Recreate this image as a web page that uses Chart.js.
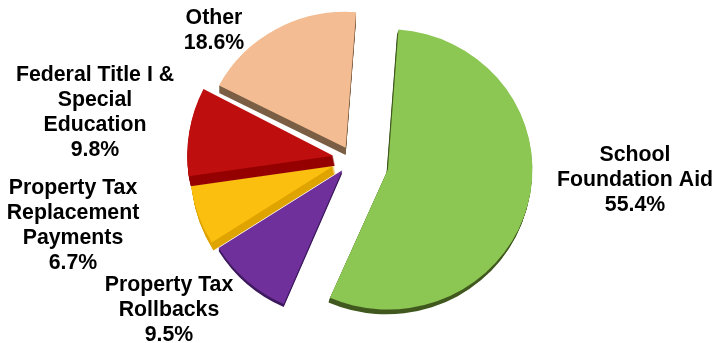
<!DOCTYPE html>
<html>
<head>
<meta charset="utf-8">
<style>
  html, body { margin: 0; background: #fff; }
  #funding-chart { display: block; }
</style>
<script src="https://cdn.jsdelivr.net/npm/chart.js@4/dist/chart.umd.min.js"></script>
</head>
<body>
<canvas id="funding-chart" width="713" height="343"></canvas>
<script>
const categories = [
  ['School', 'Foundation Aid'],
  ['Property Tax', 'Rollbacks'],
  ['Property Tax', 'Replacement', 'Payments'],
  ['Federal Title I &', 'Special', 'Education'],
  ['Other'],
];
const shares = [55.4, 9.5, 6.7, 9.8, 18.6];

const faceColors = ['#8cc653', '#70309b', '#fbbf10', '#bf0e0e', '#f3bc92'];
const sideColors = ['#41591f', '#3d1a5e', '#dfa400', '#950000', '#7b5f45'];

// per-slice look: pull-out distance, drop, wall height, wall lean, squash
const explode = [37, 15, 19, 19, 13];
const drop = [1.5, 0, 0, 0, 0];
const depth = [5, 3, 8, 10, 8];
const lean = [-0.3, 0, 0.2, 0.2, 0];
const squashX = [0.99, 1, 0.99, 1, 0.975];
const squashY = [0.96, 1, 0.99, 1, 0.93];

// label anchors, first line centre
const labelX = [635, 169, 73, 95, 214];
const labelY = [155, 285, 188, 75, 18];
const lineHeight = 24.9;

const explodedPie = {
  id: 'explodedPie',
  beforeDatasetDraw(chart, args) {
    const { ctx } = chart;
    const arcs = args.meta.data;
    arcs.forEach((arc, i) => {
      const mid = (arc.startAngle + arc.endAngle) / 2;
      const x = arc.x + Math.cos(mid) * explode[i];
      const y = arc.y + Math.sin(mid) * explode[i] + drop[i];

      ctx.save();
      ctx.translate(x, y);
      ctx.scale(squashX[i], squashY[i]);
      ctx.translate(-arc.x, -arc.y);

      // wall first, stacked copies of the slice outline
      ctx.fillStyle = sideColors[i];
      for (let d = depth[i]; d > 0; d--) {
        const wx = arc.x + d * lean[i];
        const wy = arc.y + d;
        ctx.beginPath();
        ctx.moveTo(wx, wy);
        ctx.arc(wx, wy, arc.outerRadius, arc.startAngle, arc.endAngle);
        ctx.closePath();
        ctx.fill();
      }

      arc.draw(ctx);
      ctx.restore();
    });
    return false;
  },
};

const sliceLabels = {
  id: 'sliceLabels',
  afterDraw(chart) {
    const { ctx } = chart;
    ctx.save();
    ctx.font = 'bold 21.3px "Liberation Sans", Arial, sans-serif';
    ctx.fillStyle = '#000';
    ctx.textAlign = 'center';
    ctx.textBaseline = 'middle';
    categories.forEach((lines, i) => {
      const rows = [...lines, shares[i].toFixed(1) + '%'];
      rows.forEach((row, r) => {
        ctx.fillText(row, labelX[i], labelY[i] + r * lineHeight);
      });
    });
    ctx.restore();
  },
};

new Chart(document.getElementById('funding-chart'), {
  type: 'pie',
  data: {
    labels: categories,
    datasets: [
      {
        data: shares,
        backgroundColor: faceColors,
        borderWidth: 0,
      },
    ],
  },
  options: {
    responsive: false,
    animation: false,
    rotation: 4.2,
    radius: 146,
    layout: {
      padding: { right: 9, bottom: 25 },
    },
    plugins: {
      legend: { display: false },
      tooltip: { enabled: false },
    },
  },
  plugins: [explodedPie, sliceLabels],
});
</script>
</body>
</html>
